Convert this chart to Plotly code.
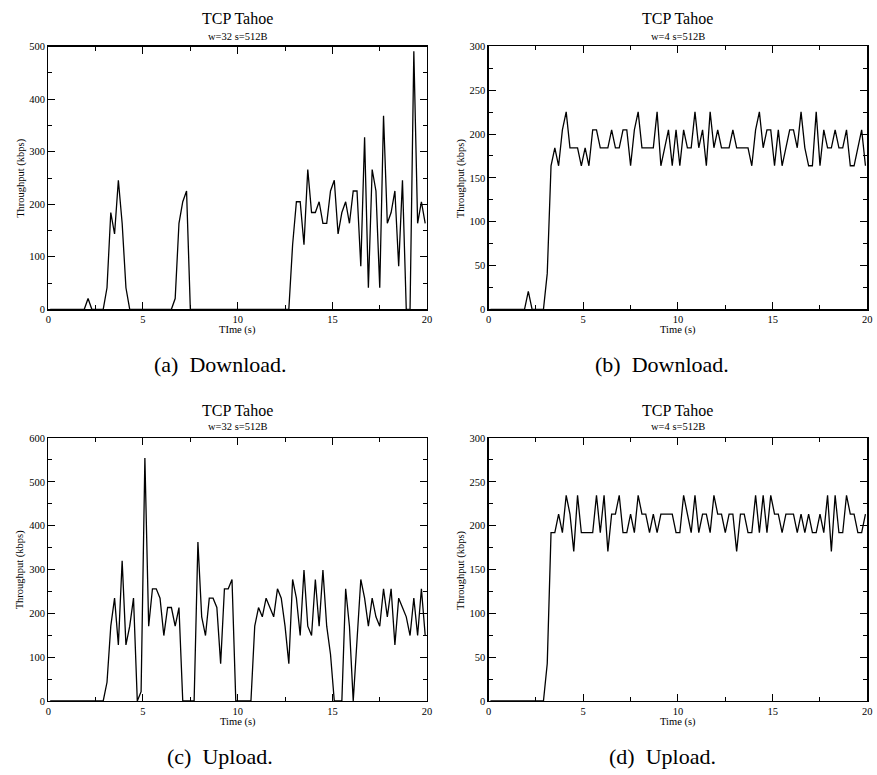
import plotly.graph_objects as go

# ---------------- data ----------------
time_s = [
    0.1, 0.3, 0.5, 0.7, 0.9, 1.1, 1.3, 1.5, 1.7, 1.9,
    2.1, 2.3, 2.5, 2.7, 2.9, 3.1, 3.3, 3.5, 3.7, 3.9,
    4.1, 4.3, 4.5, 4.7, 4.9, 5.1, 5.3, 5.5, 5.7, 5.9,
    6.1, 6.3, 6.5, 6.7, 6.9, 7.1, 7.3, 7.5, 7.7, 7.9,
    8.1, 8.3, 8.5, 8.7, 8.9, 9.1, 9.3, 9.5, 9.7, 9.9,
    10.1, 10.3, 10.5, 10.7, 10.9, 11.1, 11.3, 11.5, 11.7, 11.9,
    12.1, 12.3, 12.5, 12.7, 12.9, 13.1, 13.3, 13.5, 13.7, 13.9,
    14.1, 14.3, 14.5, 14.7, 14.9, 15.1, 15.3, 15.5, 15.7, 15.9,
    16.1, 16.3, 16.5, 16.7, 16.9, 17.1, 17.3, 17.5, 17.7, 17.9,
    18.1, 18.3, 18.5, 18.7, 18.9, 19.1, 19.3, 19.5, 19.7, 19.9,
]

download_w32 = [
    0, 0, 0, 0, 0, 0, 0, 0, 0, 0,
    20.5, 0, 0, 0, 0,
    41, 184.3, 143.4, 245.8, 163.8,
    41, 0, 0, 0, 0,
    0, 0, 0, 0, 0,
    0, 0, 0, 20.5, 163.8,
    204.8, 225.3, 0, 0, 0,
    0, 0, 0, 0, 0,
    0, 0, 0, 0, 0,
    0, 0, 0, 0, 0,
    0, 0, 0, 0, 0,
    0, 0, 0, 0, 122.9,
    204.8, 204.8, 122.9, 266.2, 184.3,
    184.3, 204.8, 163.8, 163.8, 225.3,
    245.8, 143.4, 184.3, 204.8, 163.8,
    225.3, 225.3, 81.9, 327.7, 41,
    266.2, 225.3, 41, 368.6, 163.8,
    184.3, 225.3, 81.9, 245.8, 0,
    0, 491.5, 163.8, 204.8, 163.8,
]

download_w4 = [
    0, 0, 0, 0, 0, 0, 0, 0, 0, 0,
    20.5, 0, 0, 0, 0,
    41, 163.8, 184.3, 163.8, 204.8,
    225.3, 184.3, 184.3, 184.3, 163.8,
    184.3, 163.8, 204.8, 204.8, 184.3,
    184.3, 184.3, 204.8, 184.3, 184.3,
    204.8, 204.8, 163.8, 204.8, 225.3,
    184.3, 184.3, 184.3, 184.3, 225.3,
    163.8, 184.3, 204.8, 163.8, 204.8,
    163.8, 204.8, 184.3, 184.3, 225.3,
    184.3, 204.8, 163.8, 225.3, 184.3,
    204.8, 184.3, 184.3, 184.3, 204.8,
    184.3, 184.3, 184.3, 184.3, 163.8,
    204.8, 225.3, 184.3, 204.8, 204.8,
    163.8, 204.8, 163.8, 184.3, 204.8,
    204.8, 184.3, 225.3, 184.3, 163.8,
    163.8, 225.3, 163.8, 204.8, 184.3,
    184.3, 204.8, 184.3, 184.3, 204.8,
    163.8, 163.8, 184.3, 204.8, 163.8,
]

upload_w32 = [
    0, 0, 0, 0, 0, 0, 0, 0, 0, 0,
    0, 0, 0, 0, 0,
    42.7, 170.7, 234.7, 128, 320,
    128, 170.7, 234.7, 0, 21.3,
    554.7, 170.7, 256, 256, 234.7,
    149.3, 213.3, 213.3, 170.7, 213.3,
    0, 0, 0, 0, 362.7,
    192, 149.3, 234.7, 234.7, 213.3,
    85.3, 256, 256, 277.3, 0,
    0, 0, 0, 0, 170.7,
    213.3, 192, 234.7, 213.3, 192,
    256, 234.7, 170.7, 85.3, 277.3,
    234.7, 149.3, 298.7, 170.7, 149.3,
    277.3, 170.7, 298.7, 170.7, 106.7,
    0, 0, 0, 256, 170.7,
    0, 128, 277.3, 234.7, 170.7,
    234.7, 192, 170.7, 256, 192,
    256, 128, 234.7, 213.3, 192,
    149.3, 234.7, 149.3, 256, 149.3,
]

upload_w4 = [
    0, 0, 0, 0, 0, 0, 0, 0, 0, 0,
    0, 0, 0, 0, 0,
    42.7, 192, 192, 213.3, 192,
    234.7, 213.3, 170.7, 234.7, 192,
    192, 192, 192, 234.7, 192,
    234.7, 170.7, 213.3, 213.3, 234.7,
    192, 192, 213.3, 192, 234.7,
    213.3, 213.3, 192, 213.3, 192,
    213.3, 213.3, 213.3, 213.3, 192,
    192, 234.7, 213.3, 192, 234.7,
    192, 213.3, 213.3, 192, 234.7,
    213.3, 213.3, 192, 213.3, 213.3,
    170.7, 213.3, 213.3, 192, 192,
    234.7, 192, 234.7, 192, 234.7,
    213.3, 213.3, 192, 213.3, 213.3,
    213.3, 192, 213.3, 192, 213.3,
    192, 192, 213.3, 192, 234.7,
    170.7, 234.7, 192, 192, 234.7,
    213.3, 213.3, 192, 192, 213.3,
]

titles = ["TCP Tahoe", "TCP Tahoe", "TCP Tahoe", "TCP Tahoe"]
subtitles = ["w=32 s=512B", "w=4 s=512B", "w=32 s=512B", "w=4 s=512B"]
x_titles = ["TIme (s)", "Time (s)", "Time (s)", "Time (s)"]
y_title = "Throughput (kbps)"
captions = ["(a)\u00a0 Download.", "(b)\u00a0 Download.", "(c)\u00a0 Upload.", "(d)\u00a0 Upload."]
y_max = [500, 300, 600, 300]
y_step = [100, 50, 100, 50]
series = [download_w32, download_w4, upload_w32, upload_w4]

for s in series:
    if len(s) != len(time_s):
        raise ValueError("length mismatch %d" % len(s))

# ---------------- layout ----------------
W, H = 877, 775
FONT = "Liberation Serif"


def fx(X):
    return X / W


def fy(Y):
    return 1 - Y / H


# plot-area boxes in pixels: (left, right, top, bottom)
boxes = [
    (45.7, 428.0, 42.3, 308.7),
    (490.0, 872.3, 42.0, 308.7),
    (45.7, 428.0, 439.3, 706.0),
    (490.0, 872.3, 439.3, 706.0),
]
title_y = [(13.3, 31.7), (13.3, 31.7), (411.0, 427.7), (411.0, 427.7)]
xtitle_y = [329.5, 329.5, 727.8, 727.8]
ytitle_x = [18.0, 462.5, 17.0, 461.7]
caption_xy = [(220, 365), (665, 365), (219, 762), (666, 762)]

fig = go.Figure()
annotations = []
layout = dict(
    width=W, height=H,
    margin=dict(l=0, r=0, t=0, b=0),
    paper_bgcolor="white", plot_bgcolor="white",
    showlegend=False,
    font=dict(family=FONT, color="black"),
)

for i in range(4):
    n = "" if i == 0 else str(i + 1)
    l, r, t, b = boxes[i]
    fig.add_trace(go.Scatter(
        x=time_s, y=series[i], mode="lines",
        line=dict(color="black", width=1.3),
        xaxis="x" + n, yaxis="y" + n, hoverinfo="skip",
    ))
    layout["xaxis" + n] = dict(
        domain=[fx(l), fx(r)], anchor="y" + n,
        range=[0, 20], tick0=0, dtick=5,
        ticks="inside", ticklen=7, tickwidth=1, tickcolor="black",
        showline=True, linecolor="black", linewidth=1.2, mirror="allticks",
        showgrid=False, zeroline=False, ticklabeloverflow="allow",
        tickfont=dict(family=FONT, size=10.5, color="black"),
        minor=dict(dtick=2.5, tick0=0, ticks="inside", ticklen=4,
                   tickwidth=1, tickcolor="black", showgrid=False),
    )
    layout["yaxis" + n] = dict(
        domain=[fy(b), fy(t)], anchor="x" + n,
        range=[0, y_max[i]], tick0=0, dtick=y_step[i],
        ticks="inside", ticklen=7, tickwidth=1, tickcolor="black",
        showline=True, linecolor="black", linewidth=1.2, mirror="allticks",
        showgrid=False, zeroline=False, ticklabeloverflow="allow",
        tickfont=dict(family=FONT, size=10.5, color="black"),
        minor=dict(dtick=y_step[i] / 2, tick0=0, ticks="inside", ticklen=4,
                   tickwidth=1, tickcolor="black", showgrid=False),
    )
    cx = (l + r) / 2
    cy = (t + b) / 2
    annotations += [
        dict(text=titles[i], x=fx(cx), y=fy(title_y[i][0]), xref="paper", yref="paper",
             xanchor="center", yanchor="middle", showarrow=False,
             font=dict(family=FONT, size=16, color="black")),
        dict(text=subtitles[i], x=fx(cx), y=fy(title_y[i][1]), xref="paper", yref="paper",
             xanchor="center", yanchor="middle", showarrow=False,
             font=dict(family=FONT, size=10.5, color="black")),
        dict(text=x_titles[i], x=fx(cx), y=fy(xtitle_y[i]), xref="paper", yref="paper",
             xanchor="center", yanchor="middle", showarrow=False,
             font=dict(family=FONT, size=10.5, color="black")),
        dict(text=y_title, x=fx(ytitle_x[i]), y=fy(cy), xref="paper", yref="paper",
             xanchor="center", yanchor="middle", showarrow=False, textangle=-90,
             font=dict(family=FONT, size=10.5, color="black")),
        dict(text=captions[i], x=fx(caption_xy[i][0]), y=fy(caption_xy[i][1]),
             xref="paper", yref="paper", xanchor="center", yanchor="middle",
             showarrow=False, font=dict(family=FONT, size=22, color="black")),
    ]

layout["annotations"] = annotations
fig.update_layout(**layout)
fig.write_html(
    "out.html",
    config={"displayModeBar": False, "staticPlot": True},
    post_script="document.body.style.margin='0';document.body.style.padding='0';"
                "document.documentElement.style.overflow='hidden';",
)
